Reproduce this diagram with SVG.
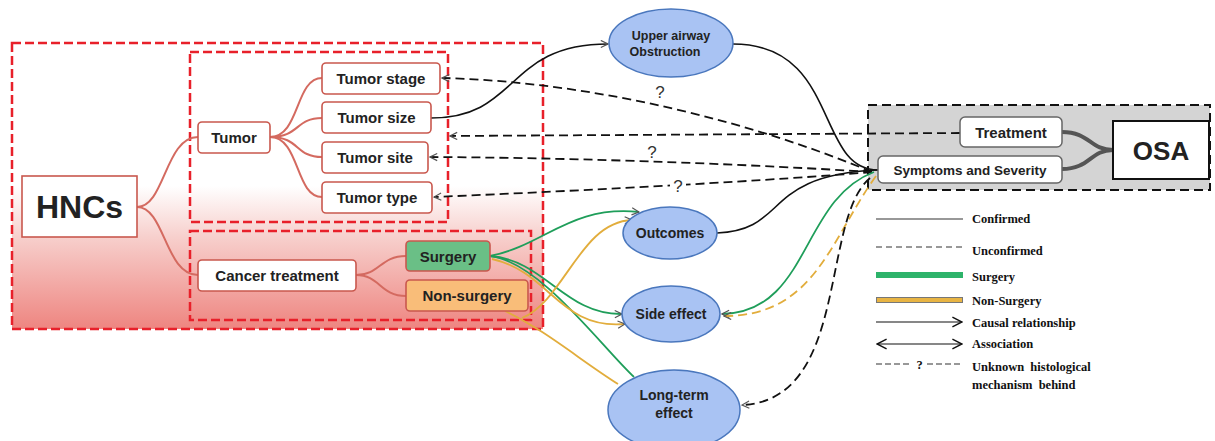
<svg xmlns="http://www.w3.org/2000/svg" width="1215" height="441" viewBox="0 0 1215 441">
<style>
.red{fill:none;stroke:#e8202a;stroke-width:2.5;stroke-dasharray:9 4}
.node{fill:#fff;stroke:#c9584e;stroke-width:1.6}
.t{font-family:"Liberation Sans",Arial,sans-serif;font-weight:bold;fill:#222;text-anchor:middle}
.tree{fill:none;stroke:#d46a60;stroke-width:2}
.ell{fill:#a9c3f3;stroke:#4a77bd;stroke-width:1.5}
.blk{fill:none;stroke:#111;stroke-width:1.6}
.dsh{fill:none;stroke:#111;stroke-width:1.8;stroke-dasharray:9 5}
.grn{fill:none;stroke:#1f9e5a;stroke-width:1.8}
.org{fill:none;stroke:#e2ad3c;stroke-width:1.8}
.q{font-family:"Liberation Sans",Arial,sans-serif;font-size:17px;fill:#333;text-anchor:middle}
.lg{font-family:"Liberation Serif","Times New Roman",serif;font-weight:bold;font-size:12.5px;fill:#111}
</style>
<defs>
<linearGradient id="bg" x1="0" y1="0" x2="0" y2="1">
<stop offset="0" stop-color="#fff"/>
<stop offset="0.5" stop-color="#fff"/>
<stop offset="0.68" stop-color="#f7cfcc"/>
<stop offset="1" stop-color="#ee8580"/>
</linearGradient>
<marker id="ah" viewBox="0 0 10 10" refX="9" refY="5" markerWidth="9" markerHeight="9" markerUnits="userSpaceOnUse" orient="auto-start-reverse">
<path d="M1,1 L9,5 L1,9" fill="none" stroke="#555" stroke-width="1.3"/>
</marker>
<marker id="ahl" viewBox="0 0 10 10" refX="9" refY="5" markerWidth="12" markerHeight="12" markerUnits="userSpaceOnUse" orient="auto-start-reverse">
<path d="M1,1 L9,5 L1,9" fill="none" stroke="#111" stroke-width="1.2"/>
</marker>
</defs>
<rect width="1215" height="441" fill="#fff"/>

<g id="hnc-region">
<rect x="12" y="43" width="531" height="286" fill="url(#bg)"/>
<rect x="12" y="43" width="531" height="286" class="red"/>
<rect x="190" y="52" width="258" height="170" class="red"/>
<rect x="190" y="231" width="341" height="89" class="red"/>
</g>

<g id="osa-region">
<rect x="868" y="105" width="342" height="85" fill="#d4d4d4" stroke="#111" stroke-width="2" stroke-dasharray="9 5"/>
</g>

<g id="tree-links">
<path class="tree" stroke-width="3" d="M137,207 C165,207 165,137 198,137"/>
<path class="tree" stroke-width="3" d="M137,207 C165,207 165,275 198,275"/>
<path class="tree" d="M270,137 C300,137 295,78 322,78"/>
<path class="tree" d="M270,137 C300,137 295,118 322,118"/>
<path class="tree" d="M270,137 C300,137 295,157 322,157"/>
<path class="tree" d="M270,137 C300,137 295,197 322,197"/>
<path class="tree" d="M356,275 C380,275 380,256 406,256"/>
<path class="tree" d="M356,275 C380,275 380,296 406,296"/>
<path fill="none" stroke="#555" stroke-width="4" d="M1062,132 C1090,132 1090,150 1113,150"/>
<path fill="none" stroke="#555" stroke-width="4" d="M1062,169 C1090,169 1090,150 1113,150"/>
</g>

<g id="connectors">
<path class="blk" d="M431,118 C520,118 505,44 608,44" marker-end="url(#ah)"/>
<path class="blk" d="M733,44 C840,44 815,170 878,170"/>
<path class="blk" d="M717,233 C790,230 760,175 878,170"/>
<path class="dsh" d="M872,172 C760,125 600,82 442,78" marker-end="url(#ah)"/>
<path class="dsh" d="M960,133 L450,136" marker-end="url(#ah)"/>
<path class="dsh" d="M872,172 C760,165 600,158 430,157" marker-end="url(#ah)"/>
<path class="dsh" d="M872,172 C780,180 600,190 434,197" marker-end="url(#ah)"/>
<path class="grn" d="M874,172 C800,200 810,312 722,314" marker-end="url(#ah)"/>
<path class="org" stroke-dasharray="9 5" d="M876,176 C830,240 815,316 724,316" marker-end="url(#ah)"/>
<path class="dsh" d="M870,178 C820,220 850,400 742,405" marker-end="url(#ah)"/>
<path class="grn" d="M490,256 C545,245 570,205 639,212" marker-end="url(#ah)"/>
<path class="grn" d="M490,256 C545,260 565,315 622,314" marker-end="url(#ah)"/>
<path class="grn" d="M490,256 C540,262 600,345 634,377"/>
<path class="org" d="M522,318 C565,300 580,222 632,220" marker-end="url(#ah)"/>
<path class="org" d="M492,259 C550,272 560,330 625,324" marker-end="url(#ah)"/>
<path class="org" d="M505,311 C545,330 580,360 618,384"/>
<text class="q" x="660" y="98">?</text>
<text class="q" x="652" y="158">?</text>
<rect x="670" y="178" width="16" height="18" fill="#fff"/>
<text class="q" x="678" y="192">?</text>
</g>

<g id="HNCs"><rect class="node" x="22" y="176" width="115" height="61"/><text class="t" x="79.5" y="218" font-size="32">HNCs</text></g>
<g id="Tumor"><rect class="node" x="198" y="122" width="72" height="31" rx="4"/><text class="t" x="234" y="143" font-size="15">Tumor</text></g>
<g id="TumorStage"><rect class="node" x="322" y="63" width="118" height="31" rx="4"/><text class="t" x="381" y="84" font-size="15">Tumor stage</text></g>
<g id="TumorSize"><rect class="node" x="322" y="102" width="109" height="31" rx="4"/><text class="t" x="376.5" y="123" font-size="15">Tumor size</text></g>
<g id="TumorSite"><rect class="node" x="322" y="142" width="106" height="31" rx="4"/><text class="t" x="375" y="163" font-size="15">Tumor site</text></g>
<g id="TumorType"><rect class="node" x="322" y="182" width="110" height="31" rx="4"/><text class="t" x="377" y="203" font-size="15">Tumor type</text></g>
<g id="CancerTreatment"><rect class="node" x="198" y="260" width="158" height="31" rx="4"/><text class="t" x="277" y="281" font-size="15">Cancer treatment</text></g>
<g id="Surgery"><rect class="node" x="406" y="241" width="84" height="30" rx="4" style="fill:#6abf86"/><text class="t" x="448" y="262" font-size="15">Surgery</text></g>
<g id="NonSurgery"><rect class="node" x="406" y="280" width="122" height="31" rx="4" style="fill:#f9bd79"/><text class="t" x="467" y="301" font-size="15">Non-surgery</text></g>

<g id="UpperAirway"><ellipse class="ell" cx="671" cy="43" rx="62" ry="34"/><text class="t" x="671" y="40" font-size="12.5">Upper airway</text><text class="t" x="665" y="56" font-size="12.5">Obstruction</text></g>
<g id="Outcomes"><ellipse class="ell" cx="670" cy="233" rx="47" ry="26"/><text class="t" x="670" y="238" font-size="14">Outcomes</text></g>
<g id="SideEffect"><ellipse class="ell" cx="671" cy="314" rx="49" ry="28"/><text class="t" x="671" y="319" font-size="14">Side effect</text></g>
<g id="LongTerm"><ellipse class="ell" cx="674" cy="410" rx="66" ry="40"/><text class="t" x="674" y="400" font-size="14">Long-term</text><text class="t" x="674" y="418" font-size="14">effect</text></g>

<g id="Treatment"><rect x="960" y="117" width="102" height="30" rx="5" fill="#fff" stroke="#666" stroke-width="1.5"/><text class="t" x="1011" y="138" font-size="15">Treatment</text></g>
<g id="Symptoms"><rect x="878" y="156" width="184" height="27" rx="5" fill="#fff" stroke="#666" stroke-width="1.5"/><text class="t" x="970" y="175" font-size="13.5">Symptoms and Severity</text></g>
<g id="OSA"><rect x="1113" y="121" width="96" height="58" fill="#fff" stroke="#111" stroke-width="2"/><text class="t" x="1161" y="160" font-size="26">OSA</text></g>

<g id="legend">
<line x1="876" y1="219" x2="963" y2="219" stroke="#333" stroke-width="1.2"/>
<text class="lg" x="972" y="223">Confirmed</text>
<line x1="876" y1="247" x2="963" y2="247" stroke="#333" stroke-width="1.2" stroke-dasharray="6 4"/>
<text class="lg" x="972" y="255">Unconfirmed</text>
<rect x="876" y="272" width="87" height="6" fill="#2db36a"/>
<text class="lg" x="972" y="281">Surgery</text>
<rect x="876.5" y="297.5" width="86" height="5" fill="#e8b443" stroke="#777" stroke-width="1"/>
<text class="lg" x="972" y="305">Non-Surgery</text>
<line x1="876" y1="322" x2="962" y2="322" stroke="#111" stroke-width="1.2" marker-end="url(#ahl)"/>
<text class="lg" x="972" y="327">Causal relationship</text>
<line x1="877" y1="344" x2="962" y2="344" stroke="#111" stroke-width="1.2" marker-start="url(#ahl)" marker-end="url(#ahl)"/>
<text class="lg" x="972" y="348">Association</text>
<line x1="876" y1="364" x2="912" y2="364" stroke="#333" stroke-width="1.2" stroke-dasharray="6 3"/>
<line x1="927" y1="364" x2="963" y2="364" stroke="#333" stroke-width="1.2" stroke-dasharray="6 3"/>
<text class="lg" x="919.5" y="369" text-anchor="middle">?</text>
<text class="lg" x="972" y="371" xml:space="preserve">Unknown  histological</text>
<text class="lg" x="972" y="389" xml:space="preserve">mechanism  behind</text>
</g>
</svg>
